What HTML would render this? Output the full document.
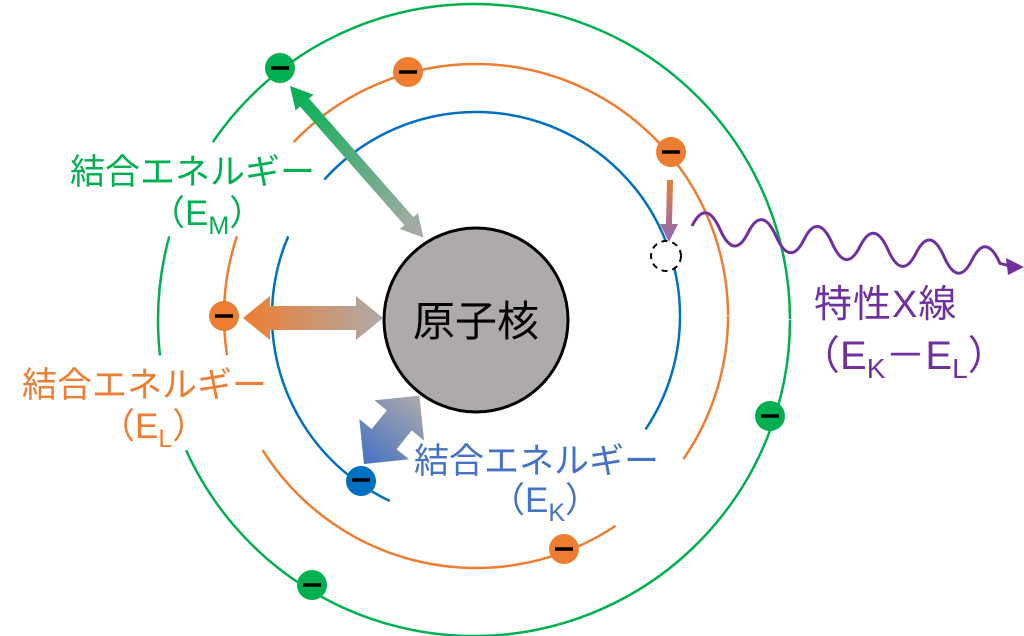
<!DOCTYPE html>
<html><head><meta charset="utf-8"><style>
html,body{margin:0;padding:0;background:#fff;}
svg{display:block;}
text{font-family:"Liberation Sans","Noto Sans CJK JP",sans-serif;}
</style></head><body>
<svg width="1024" height="636" viewBox="0 0 1024 636" xmlns="http://www.w3.org/2000/svg">
<defs>
<linearGradient id="gG" x1="0" y1="0" x2="1" y2="0"><stop offset="0" stop-color="#00b050"/><stop offset="1" stop-color="#aeaaaa"/></linearGradient>
<linearGradient id="gO" x1="243" y1="0" x2="382" y2="0" gradientUnits="userSpaceOnUse"><stop offset="0" stop-color="#ed7d31"/><stop offset="1" stop-color="#aeaaaa"/></linearGradient>
<linearGradient id="gB" x1="0" y1="0" x2="1" y2="0"><stop offset="0" stop-color="#4472c4"/><stop offset="1" stop-color="#aeaaaa"/></linearGradient>
<linearGradient id="gS" x1="0" y1="180" x2="0" y2="240" gradientUnits="userSpaceOnUse"><stop offset="0" stop-color="#ed7d31"/><stop offset="1" stop-color="#8f68b8"/></linearGradient>
</defs>
<circle cx="474" cy="320" r="316" fill="none" stroke="#00b050" stroke-width="2.5" pathLength="360" stroke-dasharray="155.7 17.9 21.8 18.9 145.7"/>
<circle cx="476" cy="316" r="252" fill="none" stroke="#ed7d31" stroke-width="2.5" pathLength="360" stroke-dasharray="34.6 21.8 91.5 23.2 27.4 25.2 136.3"/>
<circle cx="476" cy="316" r="204" fill="none" stroke="#0070c0" stroke-width="2.5" pathLength="360" stroke-dasharray="33.8 81.2 88 19 138"/>
<circle cx="476" cy="320" r="92" fill="#aeaaaa" stroke="#000" stroke-width="3"/>
<text x="476" y="336" font-size="42" text-anchor="middle" fill="#000">原子核</text>
<g transform="translate(290,86) rotate(48.65)">
<polygon points="0,0 22,-12 22,-6 180,-6 180,-12 202,0 180,12 180,6 22,6 22,12" fill="url(#gG)"/>
</g>
<polygon points="243,318 270,296 270,306 356,306 356,296 383,318 356,340 356,330 270,330 270,340" fill="url(#gO)"/>
<g transform="translate(364,464) rotate(-51)">
<polygon points="0,0 32,-32 32,-16 56,-16 56,-32 88,0 56,32 56,16 32,16 32,32" fill="url(#gB)"/>
</g>
<polygon points="667,180 673,180 672,224 678,224 669,242 660,224 666,224" fill="url(#gS)"/>
<circle cx="666" cy="256" r="15" fill="#fff" stroke="#000" stroke-width="2" stroke-dasharray="6 5"/>
<path d="M692 226 q14 -28 28 3.4 t28 3.4 t28 3.4 t28 3.4 t28 3.4 t28 3.4 t28 3.4 t28 3.4 t28 3.4 t28 3.4 t28 3.4 l8 2" fill="none" stroke="#7030a0" stroke-width="3"/>
<polygon points="1024,267 1006,258 1008,275" fill="#7030a0"/>
<g stroke="#000" stroke-width="3.5">
<circle cx="280" cy="68" r="15" fill="#00b050" stroke="none"/><line x1="271" y1="68" x2="289" y2="68"/>
<circle cx="770" cy="416" r="15" fill="#00b050" stroke="none"/><line x1="761" y1="416" x2="779" y2="416"/>
<circle cx="312" cy="585" r="15" fill="#00b050" stroke="none"/><line x1="303" y1="585" x2="321" y2="585"/>
<circle cx="408" cy="72" r="15" fill="#ed7d31" stroke="none"/><line x1="399" y1="72" x2="417" y2="72"/>
<circle cx="671" cy="152" r="15" fill="#ed7d31" stroke="none"/><line x1="662" y1="152" x2="680" y2="152"/>
<circle cx="224" cy="316" r="15" fill="#ed7d31" stroke="none"/><line x1="215" y1="316" x2="233" y2="316"/>
<circle cx="564" cy="549" r="15" fill="#ed7d31" stroke="none"/><line x1="555" y1="549" x2="573" y2="549"/>
<circle cx="361" cy="481" r="15" fill="#0070c0" stroke="none"/><line x1="352" y1="480" x2="370" y2="480"/>
</g>
<text x="70" y="184" font-size="35" fill="#00b050">結合エネルギー</text>
<text x="150" y="225" font-size="35" fill="#00b050">（E<tspan font-size="25" dy="9">M</tspan><tspan dy="-9">）</tspan></text>
<text x="22" y="397" font-size="35" fill="#ed7d31">結合エネルギー</text>
<text x="100" y="438" font-size="35" fill="#ed7d31">（E<tspan font-size="25" dy="9">L</tspan><tspan dy="-9">）</tspan></text>
<text x="414" y="473" font-size="35" fill="#4472c4">結合エネルギー</text>
<text x="490" y="512" font-size="35" fill="#4472c4">（E<tspan font-size="25" dy="9">K</tspan><tspan dy="-9">）</tspan></text>
<text x="814" y="317" font-size="38" fill="#7030a0" letter-spacing="1">特性X線</text>
<text x="800" y="369" font-size="40" fill="#7030a0">（E<tspan font-size="28" dy="9">K</tspan><tspan dy="-9">－E</tspan><tspan font-size="28" dy="9">L</tspan><tspan dy="-9">）</tspan></text>
</svg>
</body></html>
